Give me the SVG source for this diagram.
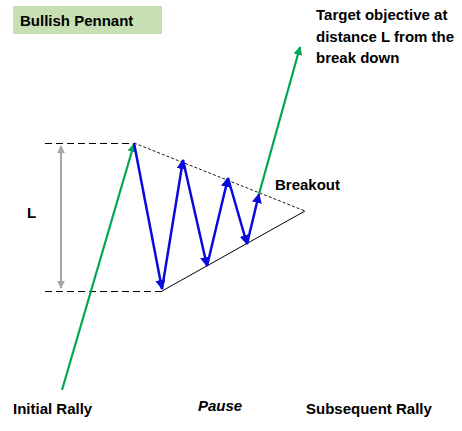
<svg xmlns="http://www.w3.org/2000/svg" width="462" height="431" viewBox="0 0 462 431">
<style>
text{font-family:"Liberation Sans",Arial,sans-serif;font-weight:bold;font-size:15px;fill:#000}
.blue{stroke:#0a0adc;stroke-width:2.5;fill:none;marker-end:url(#ab)}
.green{stroke:#00a651;stroke-width:2.2;fill:none;marker-end:url(#ag)}
.dash{stroke:#000;stroke-width:1.2;stroke-dasharray:7,4;fill:none}
.fine{stroke:#000;stroke-width:0.9;stroke-dasharray:3,2;fill:none}
</style>
<defs>
<marker id="ab" viewBox="0 0 10 10" refX="9" refY="5" markerWidth="4" markerHeight="4" orient="auto" markerUnits="strokeWidth"><path d="M0,0 L10,5 L0,10 z" fill="#0a0adc"/></marker>
<marker id="ag" viewBox="0 0 10 10" refX="9" refY="5" markerWidth="4" markerHeight="4" orient="auto" markerUnits="strokeWidth"><path d="M0,0 L10,5 L0,10 z" fill="#00a651"/></marker>
<marker id="agr" viewBox="0 0 10 10" refX="9" refY="5" markerWidth="4" markerHeight="4" orient="auto-start-reverse" markerUnits="strokeWidth"><path d="M0,0 L10,5 L0,10 z" fill="#a6a6a6"/></marker>
</defs>
<rect width="462" height="431" fill="#fff"/>
<g id="title"><rect x="13" y="6" width="149" height="28" fill="#c6e0b4"/><text x="20" y="26">Bullish Pennant</text></g>
<g id="target"><text x="316" y="20" font-size="15.5">Target objective at</text><text x="316" y="42" font-size="15.5">distance L from the</text><text x="316" y="63" font-size="15.5">break down</text></g>
<g id="labels">
<text x="27" y="218">L</text>
<text x="275" y="190">Breakout</text>
<text x="13" y="414">Initial Rally</text>
<text x="198" y="411" font-style="italic">Pause</text>
<text x="306" y="414">Subsequent Rally</text>
</g>
<g id="connectors">
<line class="dash" x1="45" y1="143.5" x2="134" y2="143.5"/>
<line class="dash" x1="45" y1="291.5" x2="162" y2="291.5"/>
<line x1="61" y1="146" x2="61" y2="288" stroke="#a6a6a6" stroke-width="2" marker-start="url(#agr)" marker-end="url(#agr)"/>
<line class="fine" x1="134" y1="143" x2="305" y2="211"/>
<line x1="162" y1="291" x2="305" y2="211" stroke="#000" stroke-width="1"/>
<line class="green" x1="62" y1="390" x2="134" y2="144"/>
<line class="blue" x1="134" y1="143" x2="162" y2="289"/>
<line class="blue" x1="162" y1="289" x2="183" y2="160"/>
<line class="blue" x1="183" y1="160" x2="207" y2="266"/>
<line class="blue" x1="207" y1="266" x2="228" y2="178"/>
<line class="blue" x1="228" y1="178" x2="247" y2="244"/>
<line class="blue" x1="247" y1="244" x2="259" y2="194"/>
<line class="green" x1="259" y1="194" x2="300" y2="47"/>
</g>
</svg>
